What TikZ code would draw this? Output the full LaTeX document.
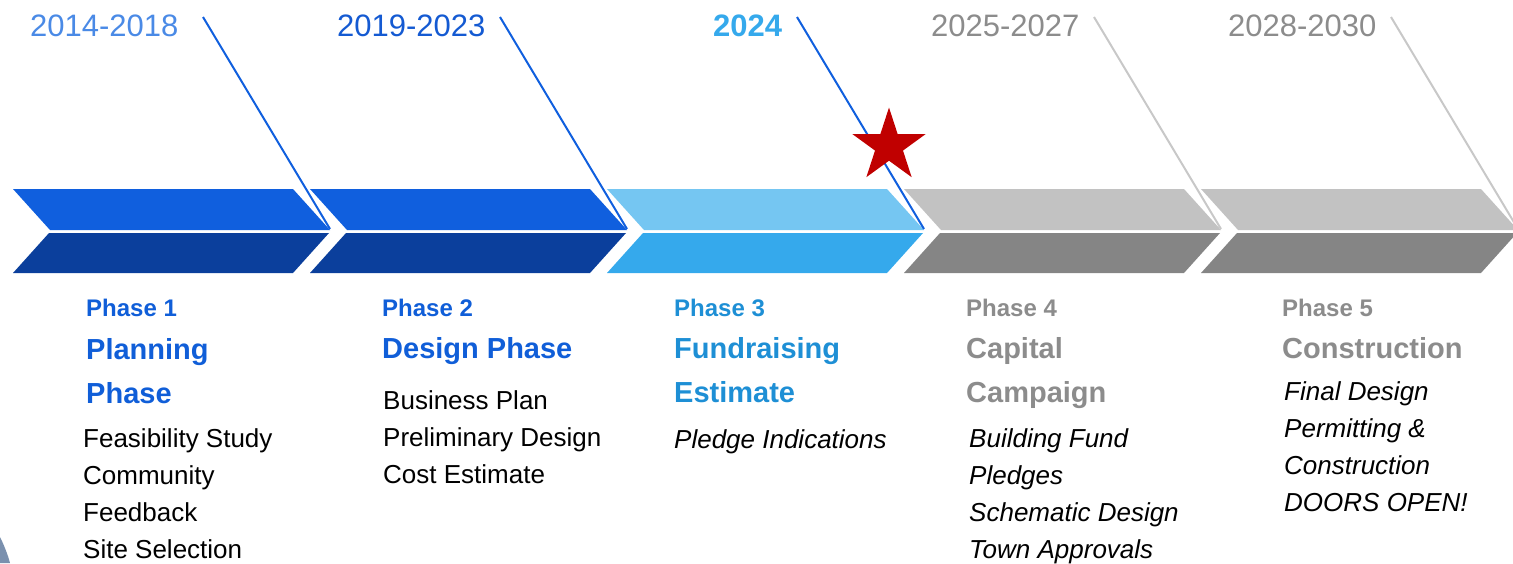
\documentclass[tikz,border=0pt]{standalone}
\usepackage{fontspec}
\setmainfont{Liberation Sans}
\usetikzlibrary{shapes.geometric}

\definecolor{bluetop}{RGB}{16,95,222}
\definecolor{bluelow}{RGB}{11,63,156}
\definecolor{skytop}{RGB}{117,198,242}
\definecolor{skylow}{RGB}{53,169,236}
\definecolor{greytop}{RGB}{194,194,194}
\definecolor{greylow}{RGB}{133,133,133}
\definecolor{greyline}{RGB}{200,200,200}
\definecolor{greytext}{RGB}{140,140,140}
\definecolor{yearone}{RGB}{74,138,230}
\definecolor{yeartwo}{RGB}{20,90,210}
\definecolor{phaseblue}{RGB}{16,94,216}
\definecolor{phasesky}{RGB}{30,143,213}
\definecolor{starred}{RGB}{192,0,0}
\definecolor{cornerblue}{RGB}{122,144,174}

\tikzset{
  yearlabel/.style={anchor=base west, inner sep=0pt, font=\fontsize{31}{37}\selectfont},
  phasetag/.style={anchor=base west, inner sep=0pt, font=\bfseries\fontsize{24}{29}\selectfont},
  phasetitle/.style={anchor=base west, inner sep=0pt, align=left, font=\bfseries\fontsize{29}{43.5}\selectfont},
  phaseitems/.style={anchor=base west, inner sep=0pt, align=left, font=\fontsize{26}{37}\selectfont},
  phaseitalic/.style={phaseitems, font=\itshape\fontsize{26}{37}\selectfont},
  pointer/.style={line width=2pt}
}

\begin{document}
\begin{tikzpicture}[x=1pt,y=-1pt]
\clip (0,0) rectangle (1513,563);
\useasboundingbox (0,0) rectangle (1513,563);

% chevrons
\foreach \x/\up/\low [count=\i] in {13/bluetop/bluelow, 310/bluetop/bluelow, 607/skytop/skylow, 904/greytop/greylow, 1201/greytop/greylow}{
  \fill[\up] (\x,189) -- (\x+280,189) -- (\x+317,230) -- (\x+37,230) -- cycle;
  \fill[\low] (\x+36,233) -- (\x+316,233) -- (\x+280,273) -- (\x,273) -- cycle;
  \coordinate (tip\i) at (\x+317,229);
  \coordinate (start\i) at (\x+190,17);
}

\node[yearlabel, text=yearone] (year1) at (30,36) {2014-2018};
\node[yearlabel, text=yeartwo] (year2) at (337,36) {2019-2023};
\node[yearlabel, text=skylow, font=\bfseries\fontsize{31}{37}\selectfont] (year3) at (713,36) {2024};
\node[yearlabel, text=greytext] (year4) at (931,36) {2025-2027};
\node[yearlabel, text=greytext] (year5) at (1228,36) {2028-2030};

\draw[pointer, bluetop] (start1) -- (tip1);
\draw[pointer, bluetop] (start2) -- (tip2);
\draw[pointer, bluetop] (start3) -- (tip3);
\draw[pointer, greyline] (start4) -- (tip4);
\draw[pointer, greyline] (start5) -- (tip5);

\node[star, star points=5, star point ratio=2.618, minimum size=77pt, inner sep=0pt, fill=starred] (redstar) at (889,146) {};

% text blocks (multi-line nodes sit on their last baseline)
\node[phasetag, text=phaseblue] (tag1) at (86,316) {Phase 1};
\node[phasetitle, text=phaseblue] (title1) at (86,403) {Planning\\Phase};
\node[phaseitems] (items1) at (83,558) {Feasibility Study\\Community\\Feedback\\Site Selection};

\node[phasetag, text=phaseblue] (tag2) at (382,316) {Phase 2};
\node[phasetitle, text=phaseblue] (title2) at (382,358) {Design Phase};
\node[phaseitems] (items2) at (383,483) {Business Plan\\Preliminary Design\\Cost Estimate};

\node[phasetag, text=phasesky] (tag3) at (674,316) {Phase 3};
\node[phasetitle, text=phasesky] (title3) at (674,402) {Fundraising\\Estimate};
\node[phaseitalic] (items3) at (674,448) {Pledge Indications};

\node[phasetag, text=greytext] (tag4) at (966,316) {Phase 4};
\node[phasetitle, text=greytext] (title4) at (966,402) {Capital\\Campaign};
\node[phaseitalic] (items4) at (969,558) {Building Fund\\Pledges\\Schematic Design\\Town Approvals};

\node[phasetag, text=greytext] (tag5) at (1282,316) {Phase 5};
\node[phasetitle, text=greytext] (title5) at (1282,358) {Construction};
\node[phaseitalic] (items5) at (1284,511) {Final Design\\Permitting \&\\Construction\\DOORS OPEN!};

\fill[cornerblue] (0,537) .. controls (4,545) and (8,555) .. (10,563) -- (0,563) -- cycle;
\end{tikzpicture}
\end{document}
